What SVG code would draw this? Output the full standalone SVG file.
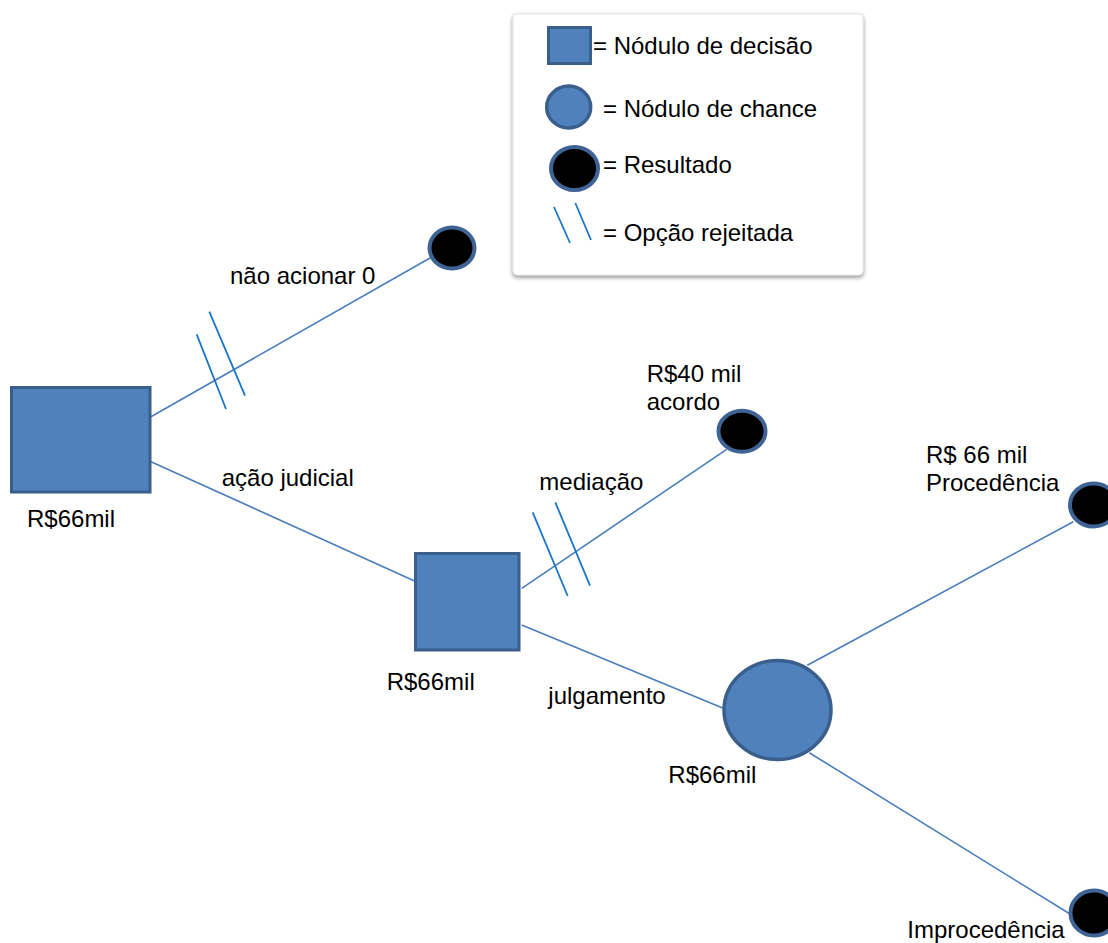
<svg xmlns="http://www.w3.org/2000/svg" width="1108" height="943" viewBox="0 0 1108 943">
<defs>
<filter id="sh" x="-5%" y="-5%" width="110%" height="115%">
<feGaussianBlur in="SourceAlpha" stdDeviation="2"/>
<feOffset dx="0" dy="2" result="b"/>
<feComponentTransfer><feFuncA type="linear" slope="0.45"/></feComponentTransfer>
<feMerge><feMergeNode/><feMergeNode in="SourceGraphic"/></feMerge>
</filter>
</defs>
<style>
text{font-family:"Liberation Sans",Arial,sans-serif;font-size:24px;fill:#000}
.dec{fill:#4f81bd;stroke:#3a5f8d;stroke-width:3}
.chance{fill:#4f81bd;stroke:#3a5f8d;stroke-width:3.5}
.res{fill:#000;stroke:#3e6394;stroke-width:4}
.conn{stroke:#4a7ebb;stroke-width:1.6;fill:none}
.hatch{stroke:#1a75c8;stroke-width:1.8;fill:none}
</style>
<rect width="1108" height="943" fill="#fff"/>

<g id="legend">
<rect x="513" y="14" width="350" height="261" rx="4" fill="#fff" stroke="#e4e4e4" stroke-width="1" filter="url(#sh)"/>
<rect class="dec" x="548.5" y="27.5" width="42" height="36"/>
<text x="593" y="54">= Nódulo de decisão</text>
<ellipse class="chance" cx="568.7" cy="107" rx="22" ry="21"/>
<text x="603" y="117">= Nódulo de chance</text>
<ellipse class="res" cx="574.5" cy="168.5" rx="23.5" ry="21.5"/>
<text x="603" y="173">= Resultado</text>
<line class="hatch" x1="554" y1="207" x2="570" y2="243"/>
<line class="hatch" x1="575.3" y1="203" x2="591" y2="240"/>
<text x="603" y="241">= Opção rejeitada</text>
</g>

<g id="connectors">
<line class="conn" x1="151" y1="416.7" x2="430" y2="258"/>
<line class="conn" x1="151" y1="461.7" x2="414" y2="580.7"/>
<line class="conn" x1="521.7" y1="588.3" x2="726.7" y2="449.3"/>
<line class="conn" x1="521.7" y1="625" x2="723.3" y2="708.3"/>
<line class="conn" x1="807.3" y1="665.3" x2="1073.3" y2="521.7"/>
<line class="conn" x1="809.3" y1="752.7" x2="1070" y2="914"/>
<line class="hatch" x1="196.7" y1="334.3" x2="226" y2="409"/>
<line class="hatch" x1="209.3" y1="311.7" x2="245" y2="395.7"/>
<line class="hatch" x1="532.7" y1="512.3" x2="567.7" y2="596"/>
<line class="hatch" x1="555.3" y1="502.3" x2="590" y2="585.7"/>
</g>

<g id="decision1">
<rect class="dec" x="11.5" y="387.5" width="138.5" height="104.5"/>
<text x="27" y="527">R$66mil</text>
</g>
<g id="outcome-nao-acionar">
<ellipse class="res" cx="452" cy="248" rx="22.5" ry="20.5"/>
<text x="230" y="284">não acionar 0</text>
</g>
<text id="label-acao" x="221.7" y="486">ação judicial</text>

<g id="decision2">
<rect class="dec" x="415.5" y="553.5" width="103.5" height="96.5"/>
<text x="386.7" y="690">R$66mil</text>
</g>
<text id="label-mediacao" x="539.3" y="490">mediação</text>
<g id="outcome-acordo">
<ellipse class="res" cx="742" cy="431.3" rx="23.5" ry="20.5"/>
<text x="646.7" y="382">R$40 mil</text>
<text x="646.7" y="410">acordo</text>
</g>
<text id="label-julgamento" x="548.3" y="704">julgamento</text>

<g id="chance">
<ellipse class="chance" cx="777.5" cy="710" rx="53.5" ry="49.5"/>
<text x="668.3" y="782.7">R$66mil</text>
</g>
<g id="outcome-procedencia">
<ellipse class="res" cx="1093.5" cy="505" rx="23.5" ry="21.5"/>
<text x="926" y="462.7">R$ 66 mil</text>
<text x="926" y="491">Procedência</text>
</g>
<g id="outcome-improcedencia">
<ellipse class="res" cx="1094" cy="913" rx="23.5" ry="22.5"/>
<text x="907.3" y="938.3">Improcedência</text>
</g>
</svg>
